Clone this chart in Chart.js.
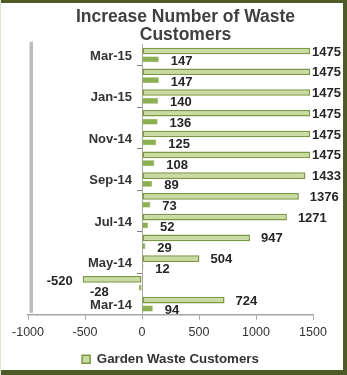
<!DOCTYPE html>
<html>
<head>
<meta charset="utf-8">
<script src="https://cdn.jsdelivr.net/npm/chart.js@4/dist/chart.umd.min.js"></script>
<style>
  html, body { margin: 0; padding: 0; background: #fff; }
  #wrap { width: 347px; height: 375px; position: relative; }
  canvas { display: block; }
</style>
</head>
<body>
<div id="wrap"><canvas id="chart"></canvas></div>
<script>
// Months, oldest first
const months = ['Mar-14', 'Apr-14', 'May-14', 'Jun-14', 'Jul-14', 'Aug-14', 'Sep-14',
                'Oct-14', 'Nov-14', 'Dec-14', 'Jan-15', 'Feb-15', 'Mar-15'];

// Garden waste customers
const gardenCustomers = [724, -520, 504, 947, 1271, 1376, 1433, 1475, 1475, 1475, 1475, 1475, 1475];

// Smaller companion series (not listed in the legend)
const companionValues = [94, -28, 12, 29, 52, 73, 89, 108, 125, 136, 140, 147, 147];

// Value axis ticks
const valueTicks = [-1000, -500, 0, 500, 1000, 1500];

const FONT = '"Liberation Sans", Arial, Helvetica, sans-serif';

// White background, grey left edge of the plot, olive frame
const framePlugin = {
  id: 'frame',
  beforeDraw(chart) {
    const { ctx, width, height, chartArea } = chart;
    ctx.save();
    ctx.fillStyle = '#ffffff';
    ctx.fillRect(0, 0, width, height);
    ctx.fillStyle = '#bcbcbc';
    ctx.fillRect(chartArea.left + 1.5, chartArea.top - 3, 3.5, chartArea.bottom - chartArea.top + 1);
    ctx.restore();
  },
  afterDraw(chart) {
    const { ctx, width, height } = chart;
    ctx.save();
    ctx.fillStyle = '#4e5b25';
    ctx.fillRect(0, 0, width, 3);
    ctx.fillRect(width - 4, 0, 4, height);
    ctx.fillRect(0, height - 5, width, 5);
    ctx.fillStyle = '#dfe6cf';
    ctx.fillRect(0, 0, 1, height);
    ctx.restore();
  }
};

// Nudge the title a little to the right of the plot centre
const titleShift = {
  id: 'titleShift',
  afterLayout(chart) {
    const t = chart.titleBlock;
    if (t) { t.left += 15; t.right += 15; }
  }
};

// Month labels beside the zero line, every second month
const monthLabels = {
  id: 'monthLabels',
  afterDraw(chart) {
    const { ctx } = chart;
    const yScale = chart.scales.y;
    const zeroX = chart.scales.x.getPixelForValue(0);
    ctx.save();
    ctx.font = 'bold 13px ' + FONT;
    ctx.fillStyle = '#333333';
    ctx.textAlign = 'right';
    ctx.textBaseline = 'middle';
    yScale.ticks.forEach((tick, i) => {
      if (i % 2 !== 0) return;
      ctx.fillText(yScale.getLabelForValue(tick.value), zeroX - 10, yScale.getPixelForTick(i) + 1);
    });
    ctx.restore();
  }
};

// Value labels next to the bar ends
const valueLabels = {
  id: 'valueLabels',
  afterDatasetsDraw(chart) {
    const { ctx, width } = chart;
    ctx.save();
    ctx.font = 'bold 13px ' + FONT;
    ctx.fillStyle = '#262626';
    ctx.textBaseline = 'middle';
    ctx.textAlign = 'left';
    chart.data.datasets.forEach((ds, di) => {
      const meta = chart.getDatasetMeta(di);
      const st = ds.labelStyle;
      meta.data.forEach((bar, i) => {
        const v = ds.data[i];
        const txt = String(v);
        const w = ctx.measureText(txt).width;
        let x, y;
        if (v >= 0) {
          x = Math.min(bar.x + st.gap, width - 6 - w);
          y = bar.y + st.dy;
        } else {
          x = bar.x - st.negGap - w;
          y = bar.y + st.negDy;
        }
        ctx.fillText(txt, x, y);
      });
    });
    ctx.restore();
  }
};

new Chart(document.getElementById('chart'), {
  type: 'bar',
  data: {
    labels: months,
    datasets: [
      {
        label: 'Garden Waste Customers',
        data: gardenCustomers,
        backgroundColor: '#c8dba0',
        borderColor: '#7d9844',
        borderWidth: 1.5,
        borderSkipped: false,
        barPercentage: 0.8,
        categoryPercentage: 0.8,
        labelStyle: { gap: 11, negGap: 10, dy: 1, negDy: 2 }
      },
      {
        label: 'companion',
        data: companionValues,
        backgroundColor: '#8cb050',
        borderColor: '#779a3e',
        borderWidth: 0.5,
        borderSkipped: false,
        barPercentage: 0.7,
        categoryPercentage: 0.8,
        labelStyle: { gap: 12, negGap: 30, dy: 2, negDy: 5 }
      }
    ]
  },
  options: {
    indexAxis: 'y',
    responsive: true,
    maintainAspectRatio: false,
    animation: false,
    devicePixelRatio: 1,
    layout: { padding: { top: 3, left: 28, right: 34, bottom: -1 } },
    scales: {
      x: {
        type: 'linear',
        position: 'bottom',
        min: valueTicks[0],
        max: valueTicks[valueTicks.length - 1],
        ticks: {
          stepSize: valueTicks[1] - valueTicks[0],
          color: '#333',
          padding: 5,
          font: { family: FONT, size: 12.5 },
          callback: (v) => String(v)
        },
        grid: { drawOnChartArea: false, drawTicks: true, tickLength: 5, color: '#a6a6a6' },
        border: { color: '#a6a6a6', width: 1.5 }
      },
      y: {
        reverse: true,
        position: { x: 0 },
        grid: {
          drawOnChartArea: false,
          tickLength: 5,
          offset: true,
          color: (c) => (c.index % 2 === 0 ? '#808080' : 'rgba(0,0,0,0)')
        },
        border: { color: '#a6a6a6', width: 1 },
        ticks: { display: false, autoSkip: false }
      }
    },
    plugins: {
      title: {
        display: true,
        text: ['Increase Number of Waste', 'Customers'],
        color: '#404040',
        font: { family: FONT, size: 17.5, weight: 'bold', lineHeight: 1.05 },
        padding: { top: 5, bottom: 0 }
      },
      legend: {
        position: 'bottom',
        labels: {
          filter: (item) => item.datasetIndex === 0,
          boxWidth: 8,
          boxHeight: 8,
          padding: 8,
          color: '#333',
          font: { family: FONT, size: 13.3, weight: 'bold' }
        }
      },
      tooltip: { enabled: false }
    }
  },
  plugins: [framePlugin, titleShift, monthLabels, valueLabels]
});
</script>
</body>
</html>
